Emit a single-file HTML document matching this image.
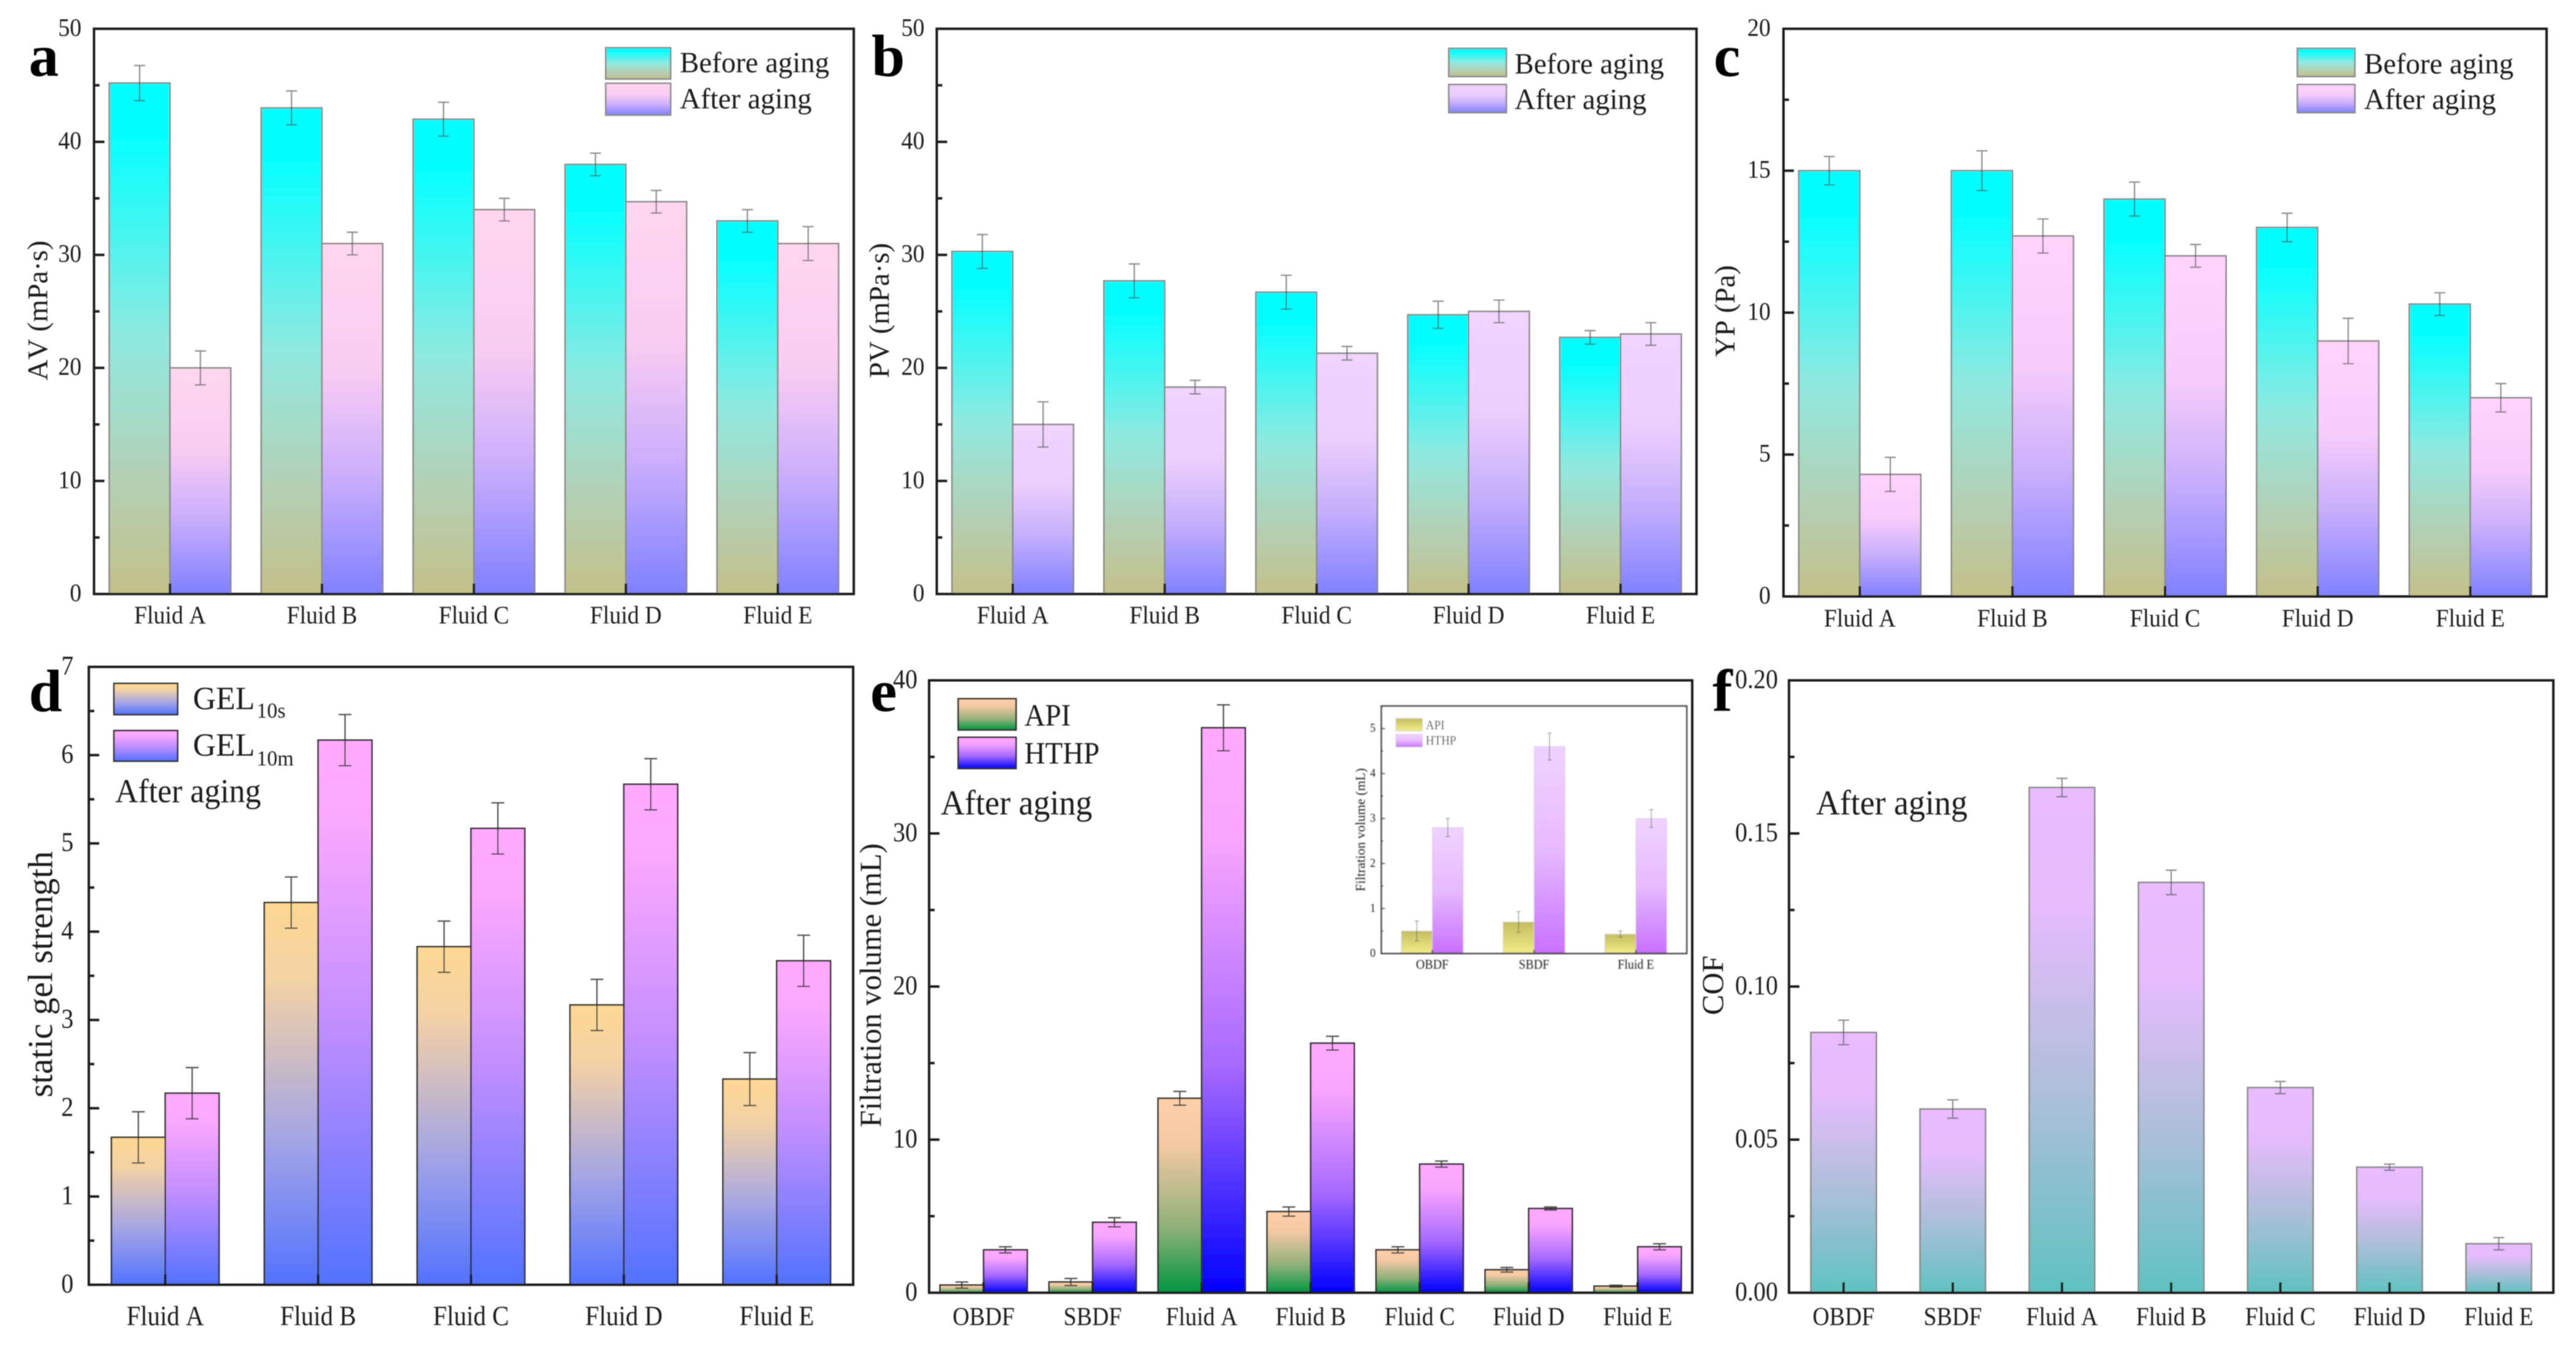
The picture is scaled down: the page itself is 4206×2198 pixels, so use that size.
<!DOCTYPE html>
<html lang="en">
<head>
<meta charset="utf-8">
<title>Drilling fluid rheology and filtration panels</title>
<style>
html,body{margin:0;padding:0;background:#fff;}
svg{display:block;}
text{font-family:"Liberation Serif",serif;font-kerning:none;fill:#1c1c1c;}
</style>
</head>
<body>
<svg id="figure" xmlns="http://www.w3.org/2000/svg" width="4206" height="2198" viewBox="0 0 4206 2198">
<defs>
<linearGradient id="gBefore" x1="0" y1="0" x2="0" y2="1"><stop offset="0" stop-color="#00ffff"/><stop offset=".11" stop-color="#06ffff"/><stop offset=".5" stop-color="#90e9df"/><stop offset=".78" stop-color="#b4cfb4"/><stop offset="1" stop-color="#c3c088"/></linearGradient>
<linearGradient id="gAfterA" x1="0" y1="0" x2="0" y2="1"><stop offset="0" stop-color="#ffd6ee"/><stop offset=".36" stop-color="#f8ccf2"/><stop offset=".66" stop-color="#cbaefc"/><stop offset="1" stop-color="#8080ff"/></linearGradient>
<linearGradient id="gAfterB" x1="0" y1="0" x2="0" y2="1"><stop offset="0" stop-color="#f0d4fe"/><stop offset=".36" stop-color="#ebcefd"/><stop offset=".66" stop-color="#c4aefc"/><stop offset="1" stop-color="#8080ff"/></linearGradient>
<linearGradient id="gAfterC" x1="0" y1="0" x2="0" y2="1"><stop offset="0" stop-color="#ffd3fc"/><stop offset=".36" stop-color="#f6ccfa"/><stop offset=".66" stop-color="#c8aefc"/><stop offset="1" stop-color="#8080ff"/></linearGradient>
<linearGradient id="g10s" x1="0" y1="0" x2="0" y2="1"><stop offset="0" stop-color="#fdd893"/><stop offset=".2" stop-color="#f4d2a4"/><stop offset=".62" stop-color="#a3a4e4"/><stop offset="1" stop-color="#5272ff"/></linearGradient>
<linearGradient id="g10m" x1="0" y1="0" x2="0" y2="1"><stop offset="0" stop-color="#ffaaff"/><stop offset=".14" stop-color="#fca8ff"/><stop offset=".5" stop-color="#c58fff"/><stop offset="1" stop-color="#5272ff"/></linearGradient>
<linearGradient id="gApi" x1="0" y1="0" x2="0" y2="1"><stop offset="0" stop-color="#ffd0aa"/><stop offset=".25" stop-color="#f2c8a2"/><stop offset=".66" stop-color="#90b07a"/><stop offset="1" stop-color="#009640"/></linearGradient>
<linearGradient id="gHthp" x1="0" y1="0" x2="0" y2="1"><stop offset="0" stop-color="#ffaaff"/><stop offset=".2" stop-color="#f8a4ff"/><stop offset=".6" stop-color="#a668ff"/><stop offset="1" stop-color="#0000ff"/></linearGradient>
<linearGradient id="gCof" x1="0" y1="0" x2="0" y2="1"><stop offset="0" stop-color="#e8bcff"/><stop offset=".25" stop-color="#e4bbfc"/><stop offset=".6" stop-color="#aebfd8"/><stop offset="1" stop-color="#5fc2bf"/></linearGradient>
<linearGradient id="gInsetApi" x1="0" y1="0" x2="0" y2="1"><stop offset="0" stop-color="#c4bd60"/><stop offset="1" stop-color="#f2ec88"/></linearGradient>
<linearGradient id="gInsetHthp" x1="0" y1="0" x2="0" y2="1"><stop offset="0" stop-color="#f0d2ff"/><stop offset=".5" stop-color="#e6bafe"/><stop offset="1" stop-color="#c870ff"/></linearGradient>
<filter id="softBlur" filterUnits="userSpaceOnUse" x="0" y="0" width="4206" height="2198"><feGaussianBlur stdDeviation="0.8"/></filter>
<filter id="insetBlur" filterUnits="userSpaceOnUse" x="0" y="0" width="4206" height="2198"><feGaussianBlur stdDeviation="0.6"/></filter>
</defs>
<g id="root" filter="url(#softBlur)"></g>
</svg>
<script>
const fluidCategories = ['Fluid A','Fluid B','Fluid C','Fluid D','Fluid E'];
const allCategories = ['OBDF','SBDF','Fluid A','Fluid B','Fluid C','Fluid D','Fluid E'];
const insetCategories = ['OBDF','SBDF','Fluid E'];

const avTicks = ['0','10','20','30','40','50'];
const avBefore = [45.2,43,42,38,33];
const avBeforeErr = [1.55,1.5,1.5,1,1];
const avAfter = [20,31,34,34.7,31];
const avAfterErr = [1.5,1,1,1,1.5];

const pvTicks = ['0','10','20','30','40','50'];
const pvBefore = [30.3,27.7,26.7,24.7,22.7];
const pvBeforeErr = [1.5,1.5,1.5,1.2,0.6];
const pvAfter = [15,18.3,21.3,25,23];
const pvAfterErr = [2,0.6,0.6,1,1];

const ypTicks = ['0','5','10','15','20'];
const ypBefore = [15,15,14,13,10.3];
const ypBeforeErr = [0.5,0.7,0.6,0.5,0.4];
const ypAfter = [4.3,12.7,12,9,7];
const ypAfterErr = [0.6,0.6,0.4,0.8,0.5];

const gelTicks = ['0','1','2','3','4','5','6','7'];
const gel10s = [1.67,4.33,3.83,3.17,2.33];
const gel10sErr = [0.29,0.29,0.29,0.29,0.3];
const gel10m = [2.17,6.17,5.17,5.67,3.67];
const gel10mErr = [0.29,0.29,0.29,0.29,0.29];

const filtTicks = ['0','10','20','30','40'];
const filtApi = [0.5,0.7,12.7,5.3,2.8,1.5,0.43];
const filtApiErr = [0.2,0.23,0.45,0.3,0.2,0.15,0.06];
const filtHthp = [2.8,4.6,36.9,16.3,8.4,5.5,3];
const filtHthpErr = [0.2,0.3,1.5,0.45,0.2,0.1,0.2];

const insetTicks = ['0','1','2','3','4','5'];
const insetApi = [0.5,0.7,0.43];
const insetApiErr = [0.22,0.23,0.07];
const insetHthp = [2.8,4.6,3];
const insetHthpErr = [0.2,0.3,0.2];

const cofTicks = ['0.00','0.05','0.10','0.15','0.20'];
const cofValues = [0.085,0.06,0.165,0.134,0.067,0.041,0.016];
const cofErr = [0.004,0.003,0.003,0.004,0.002,0.001,0.002];

const NS = 'http://www.w3.org/2000/svg';
const root = document.getElementById('root');

function el(tag, attrs, parent){
  const e = document.createElementNS(NS, tag);
  for (const k in attrs) e.setAttribute(k, attrs[k]);
  parent.appendChild(e);
  return e;
}

function makeText(parent, str, x, y, size, anchor, weight, sy){
  const t = el('text', {
    transform: 'translate(' + x + ' ' + y + ') scale(1 ' + (sy || 1) + ')',
    'font-size': size,
    'text-anchor': anchor || 'start',
    'font-weight': weight || 'normal'
  }, parent);
  t.textContent = str;
  return t;
}

function drawPanel(p){
  const g = el('g', {}, root);
  
  
  if (p.blur) g.setAttribute('filter', 'url(#insetBlur)');

  const n = p.cats.length;
  const unit = (p.right - p.left) / n;
  const yMax = p.yMax;
  const xScale = i => p.left + (i + 0.5) * unit;
  const yScale = v => p.bottom - (v / yMax) * (p.bottom - p.top);
  const barW = p.barFrac * unit;
  const ns = p.series.length;

  if (p.whiteBg) {
    const bg = el('rect', {x:p.left, y:p.top, width:p.right-p.left, height:p.bottom-p.top, fill:'#fff'}, g);
    
    
  }

  p.series.forEach((s, si) => {
    s.values.forEach((v, i) => {
      const x = xScale(i) + (si - ns / 2) * barW;
      const y = yScale(v);
      const bar = el('rect', {x:x, y:y, width:barW, height:yScale(0)-y, fill:'url(#'+s.fill+')', stroke:p.barStroke, 'stroke-width':p.barStrokeW}, g);
      
      
    });
  });

  p.series.forEach((s, si) => {
    s.values.forEach((v, i) => {
      const cx = xScale(i) + (si - ns / 2 + 0.5) * barW;
      const yHi = yScale(v + s.errs[i]);
      const yLo = yScale(v - s.errs[i]);
      const cap = p.capW / 2;
      const e = el('path', {d:'M'+cx+' '+yHi+'V'+yLo+'M'+(cx-cap)+' '+yHi+'H'+(cx+cap)+'M'+(cx-cap)+' '+yLo+'H'+(cx+cap), stroke:p.errColor, 'stroke-width':p.errW, 'stroke-opacity':p.errOpacity, fill:'none'}, g);
      
      
    });
  });

  const frame = el('rect', {x:p.left, y:p.top, width:p.right-p.left, height:p.bottom-p.top, fill:'none', stroke:p.frameColor, 'stroke-width':p.frameW}, g);
  
  

  const tickW = p.tickW;
  const values = p.ticks.map(parseFloat);
  p.ticks.forEach((lab, i) => {
    const y = yScale(values[i]);
    const tk = el('line', {x1:p.left, x2:p.left+p.majorLen, y1:y, y2:y, stroke:p.frameColor, 'stroke-width':tickW}, g);
    
    
    const baseline = y + p.tickSize * (0.338 * p.tickSy - 0.065);
    const t = makeText(g, lab, p.tickRight, baseline, p.tickSize, 'end', 'normal', p.tickSy);
    
    
    if (i < values.length - 1 || p.extraMinor) {
      const step = values[1] - values[0];
      const my = yScale(values[i] + step / 2);
      const mk = el('line', {x1:p.left, x2:p.left+p.minorLen, y1:my, y2:my, stroke:p.frameColor, 'stroke-width':tickW}, g);
      
      
    }
  });

  p.cats.forEach((c, i) => {
    const x = xScale(i);
    const tk = el('line', {x1:x, x2:x, y1:p.bottom, y2:p.bottom-p.majorLen, stroke:p.frameColor, 'stroke-width':tickW}, g);
    
    
    const t = makeText(g, c, x, p.xLabelY, p.xSize, 'middle', 'normal', p.tickSy);
    
    
  });

  const title = el('text', {
    transform: 'translate(' + (p.titleX + p.titleSize * 0.3) + ' ' + p.titleY + ') rotate(-90)',
    'font-size': p.titleSize,
    'text-anchor': 'middle'
  }, g);
  title.textContent = p.title;
  
  

  (p.legend || []).forEach((l, i) => {
    const sw = el('rect', {x:l.x, y:l.y, width:l.w, height:l.h, fill:'url(#'+p.series[i].fill+')', stroke:p.legendStroke || p.barStroke, 'stroke-width':p.barStrokeW}, g);
    
    
    const t = makeText(g, l.label, l.tx, l.ty, l.size, 'start', 'normal', l.sy || 1.02);
    
    
    if (l.sub) {
      const st = makeText(g, l.sub, l.subX, l.subY, l.subSize, 'start', 'normal', 1.02);
      
      
    }
  });

  if (p.note) {
    const nt = makeText(g, p.note.text, p.note.x, p.note.y, p.note.size, 'start', 'normal', 1.05);
    
    
  }

  if (p.letter) {
    const lt = makeText(g, p.letter.text, p.letter.x, p.letter.y, 98, 'start', 'bold', 1);
    
    
    lt.style.fill = '#000';
  }
}

const greyBars = {barStroke:'#8a8a8a', barStrokeW:2.5, capW:18, errColor:'#444', errOpacity:0.6, errW:2.2, frameColor:'#1c1c1c', frameW:4, tickW:4, majorLen:17, minorLen:9, tickSize:38, xSize:38, tickSy:1.08};
const darkBars = {barStroke:'#2e2e2e', barStrokeW:2.5, capW:21, errColor:'#333', errOpacity:0.85, errW:2.2, frameColor:'#1c1c1c', frameW:4, tickW:4, majorLen:17, minorLen:9, tickSize:40, xSize:38, tickSy:1.1};

drawPanel(Object.assign({}, greyBars, {
  id:'av', left:153.5, right:1394, top:47, bottom:970, yMax:50, ticks:avTicks, cats:fluidCategories, barFrac:0.4,
  series:[{key:'before-aging', fill:'gBefore', values:avBefore, errs:avBeforeErr},{key:'after-aging', fill:'gAfterA', values:avAfter, errs:avAfterErr}],
  tickRight:133, xLabelY:1018, title:'AV (mPa·s)', titleSize:47, titleX:63, titleY:507,
  legend:[
    {x:989,y:78,w:106,h:51,label:'Before aging',tx:1110,ty:118,size:47},
    {x:989,y:136,w:106,h:52,label:'After aging',tx:1110,ty:177,size:47}],
  letter:{text:'a',x:47,y:124}
}));

drawPanel(Object.assign({}, greyBars, {
  id:'pv', left:1529.5, right:2770, top:47, bottom:970, yMax:50, ticks:pvTicks, cats:fluidCategories, barFrac:0.4,
  series:[{key:'before-aging', fill:'gBefore', values:pvBefore, errs:pvBeforeErr},{key:'after-aging', fill:'gAfterB', values:pvAfter, errs:pvAfterErr}],
  tickRight:1509.5, xLabelY:1018, title:'PV (mPa·s)', titleSize:47, titleX:1437, titleY:507,
  legend:[
    {x:2365.5,y:79,w:94,h:46,label:'Before aging',tx:2473,ty:120,size:47},
    {x:2365.5,y:138,w:94,h:46,label:'After aging',tx:2473,ty:178,size:47}],
  letter:{text:'b',x:1423,y:124}
}));

drawPanel(Object.assign({}, greyBars, {
  id:'yp', left:2912, right:4158, top:47, bottom:974, yMax:20, ticks:ypTicks, cats:fluidCategories, barFrac:0.4,
  series:[{key:'before-aging', fill:'gBefore', values:ypBefore, errs:ypBeforeErr},{key:'after-aging', fill:'gAfterC', values:ypAfter, errs:ypAfterErr}],
  tickRight:2891, xLabelY:1023, title:'YP (Pa)', titleSize:47, titleX:2818, titleY:508,
  legend:[
    {x:3751,y:79,w:94,h:46,label:'Before aging',tx:3860,ty:120,size:47},
    {x:3751,y:138,w:94,h:46,label:'After aging',tx:3860,ty:178,size:47}],
  letter:{text:'c',x:2798,y:124}
}));

drawPanel(Object.assign({}, darkBars, {
  id:'gel', left:145, right:1393, top:1089, bottom:2098, yMax:7, ticks:gelTicks, cats:fluidCategories, barFrac:0.352, extraMinor:false,
  series:[{key:'gel-10s', fill:'g10s', values:gel10s, errs:gel10sErr},{key:'gel-10m', fill:'g10m', values:gel10m, errs:gel10mErr}],
  tickRight:120, xLabelY:2164, xSize:41, title:'static gel strength', titleSize:57, titleX:68, titleY:1591,
  legend:[
    {x:186,y:1116,w:104,h:51,label:'GEL',tx:315,ty:1158,size:52,sub:'10s',subX:419,subY:1172,subSize:34},
    {x:186,y:1193,w:104,h:50,label:'GEL',tx:315,ty:1234,size:52,sub:'10m',subX:419,subY:1250,subSize:34}],
  note:{text:'After aging',x:188,y:1310,size:52},
  letter:{text:'d',x:47,y:1161}
}));

drawPanel(Object.assign({}, darkBars, {
  id:'filtration', left:1517, right:2763, top:1111, bottom:2111, yMax:40, ticks:filtTicks, cats:allCategories, barFrac:0.4,
  series:[{key:'api', fill:'gApi', values:filtApi, errs:filtApiErr},{key:'hthp', fill:'gHthp', values:filtHthp, errs:filtHthpErr}],
  tickRight:1498, xLabelY:2164, title:'Filtration volume (mL)', titleSize:50, titleX:1423, titleY:1609,
  legend:[
    {x:1564.5,y:1141,w:94.5,h:51,label:'API',tx:1672.6,ty:1185,size:47,sy:1.08},
    {x:1564.5,y:1204,w:94.5,h:51,label:'HTHP',tx:1672.6,ty:1247,size:47,sy:1.08}],
  note:{text:'After aging',x:1536,y:1330,size:54},
  letter:{text:'e',x:1421,y:1161}
}));

drawPanel({
  id:'filtration-inset', blur:true, whiteBg:true,
  left:2255.5, right:2754, top:1153, bottom:1557, yMax:5.5, ticks:insetTicks, cats:insetCategories, barFrac:0.304,
  series:[{key:'api', fill:'gInsetApi', values:insetApi, errs:insetApiErr},{key:'hthp', fill:'gInsetHthp', values:insetHthp, errs:insetHthpErr}],
  barStroke:'#d8d0e0', barStrokeW:1, capW:7, errColor:'#666', errOpacity:0.7, errW:1.4, frameColor:'#3c3c3c', frameW:2.6, tickW:2, majorLen:6, minorLen:3, extraMinor:false,
  tickSize:18, xSize:20, tickSy:1.1, tickRight:2246, xLabelY:1582,
  title:'Filtration volume (mL)', titleSize:21.7, titleX:2222, titleY:1355,
  legend:[
    {x:2279,y:1173,w:43.5,h:21,label:'API',tx:2328,ty:1191,size:19,sy:1.1},
    {x:2279,y:1199,w:43.5,h:21,label:'HTHP',tx:2328,ty:1216,size:19,sy:1.1}]
});

drawPanel(Object.assign({}, greyBars, {
  id:'cof', left:2921, right:4169, top:1111, bottom:2111, yMax:0.2, ticks:cofTicks, cats:allCategories, barFrac:0.6,
  series:[{key:'cof', fill:'gCof', values:cofValues, errs:cofErr}],
  tickRight:2903, xLabelY:2164, tickSize:40, tickSy:1.1, title:'COF', titleSize:50, titleX:2798, titleY:1609,
  note:{text:'After aging',x:2965,y:1330,size:54},
  letter:{text:'f',x:2796,y:1161}
}));
</script>
</body>
</html>
